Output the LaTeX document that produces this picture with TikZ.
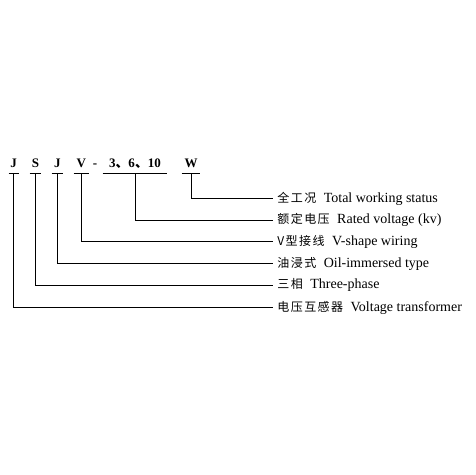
\documentclass[tikz,border=0pt]{standalone}
\usepackage{fontspec}
\setmainfont{Liberation Serif}
\newfontfamily\cjk{Noto Sans CJK SC}
\newfontfamily\cjkwide[LetterSpace=12]{Noto Sans CJK SC}
\newcommand{\zh}[1]{{\cjkwide\fontsize{12}{12}\selectfont #1}\hspace{4pt}}

\begin{document}
\begin{tikzpicture}[x=1pt,y=-1pt,line width=0.8pt]
        \useasboundingbox (0,0) rectangle (475,475);

        \begin{scope}[every node/.style={font=\fontsize{13}{13}\selectfont\bfseries, inner xsep=0pt, inner ysep=5pt, text height=9pt, text depth=0pt, anchor=south}]
          \node[minimum width=9.3pt]  (j1)   at (13.7,173.3)  {J};
          \node[minimum width=10.7pt] (s)    at (35.4,173.3)  {S};
          \node[minimum width=10.7pt] (j2)   at (57.4,173.3)  {J};
          \node[minimum width=14.3pt] (v)    at (81.2,173.3)  {V};
          \node                       (dash) at (95,173.3)    {-};
          \node[minimum width=64pt]   (num)  at (135,173.3)   {3{\cjk 、}6{\cjk 、}10};
          \node[minimum width=18pt]   (w)    at (191,173.3)   {W};
        \end{scope}

        \foreach \n in {j1,s,j2,v,num,w}
          \draw (\n.south west) -- (\n.south east);

        \begin{scope}[every node/.style={anchor=west, inner sep=4pt, font=\fontsize{14}{14}\selectfont}]
          \node (status)  at (273,198.5) {\zh{全工况} Total working status};
          \node (voltage) at (273,220)   {\zh{额定电压} Rated voltage (kv)};
          \node (wiring)  at (273,241.5) {\zh{V型接线} V-shape wiring};
          \node (oil)     at (273,263.5) {\zh{油浸式} Oil-immersed type};
          \node (phase)   at (273,285)   {\zh{三相} Three-phase};
          \node (trans)   at (273,307.5) {\zh{电压互感器} Voltage transformer};
        \end{scope}

        \draw (w.south)   |- (status.west);
        \draw (num.south) |- (voltage.west);
        \draw (v.south)   |- (wiring.west);
        \draw (j2.south)  |- (oil.west);
        \draw (s.south)   |- (phase.west);
        \draw (j1.south)  |- (trans.west);

      \end{tikzpicture}
\end{document}
